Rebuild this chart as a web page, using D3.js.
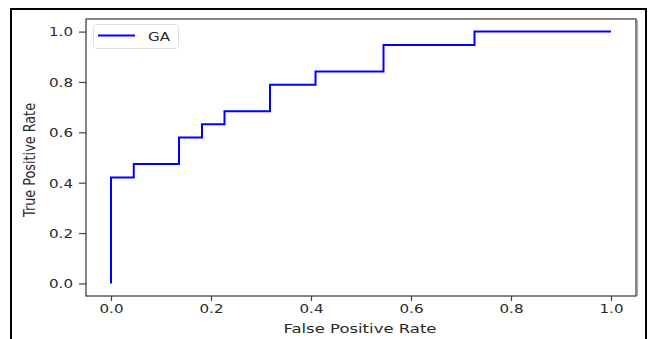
<!DOCTYPE html>
<html><head><meta charset="utf-8">
<script src="https://cdn.jsdelivr.net/npm/d3@7"></script>
<style>
html,body{margin:0;padding:0;background:#fff;}
svg{display:block;}
text{font-family:"DejaVu Sans",sans-serif;}
</style></head>
<body>
<svg id="c" width="648" height="339"></svg>
<script>
// ROC curve data (GA)
const fpr = [0, 0, 0.0455, 0.0455, 0.136, 0.136, 0.182, 0.182, 0.227, 0.227, 0.318, 0.318, 0.409, 0.409, 0.545, 0.545, 0.727, 0.727, 1.0];
const tpr = [0, 0.421, 0.421, 0.474, 0.474, 0.579, 0.579, 0.632, 0.632, 0.684, 0.684, 0.789, 0.789, 0.842, 0.842, 0.947, 0.947, 1.0, 1.0];
const seriesName = "GA";
const xTicks = [0, 0.2, 0.4, 0.6, 0.8, 1.0];
const yTicks = [0, 0.2, 0.4, 0.6, 0.8, 1.0];
const xLabel = "False Positive Rate";
const yLabel = "True Positive Rate";

const svg = d3.select("#c");
const L = 86, R = 636, T = 19, B = 296;
const x = d3.scaleLinear().domain([-0.05, 1.05]).range([L, R]);
const y = d3.scaleLinear().domain([-0.05, 1.05]).range([B, T]);

// outer frame
svg.append("rect").attr("x", 11).attr("y", 9).attr("width", 635).attr("height", 345)
  .attr("fill", "none").attr("stroke", "#000").attr("stroke-width", 2);

// plot frame shadow on right
svg.append("line").attr("x1", R + 1.5).attr("x2", R + 1.5).attr("y1", T + 1).attr("y2", B)
  .attr("stroke", "#aaa").attr("stroke-width", 1.2);

// axes
const fmt = d3.format(".1f");
const gx = svg.append("g").attr("transform", `translate(0,${B})`)
  .call(d3.axisBottom(x).tickValues(xTicks).tickFormat(fmt).tickSize(5).tickSizeOuter(0));
const gy = svg.append("g").attr("transform", `translate(${L},0)`)
  .call(d3.axisLeft(y).tickValues(yTicks).tickFormat(fmt).tickSize(7).tickSizeOuter(0));
[gx, gy].forEach(g => {
  g.select(".domain").remove();
  g.selectAll(".tick line").attr("stroke", "#444").attr("stroke-width", 1.2);
  g.selectAll(".tick text").attr("fill", "#2a2a2a").attr("font-size", 12.5)
    .attr("font-family", "DejaVu Sans")
    .attr("textLength", 24).attr("lengthAdjust", "spacingAndGlyphs");
});
gx.selectAll(".tick text").attr("y", 8);
gy.selectAll(".tick text").attr("x", -13).attr("dy", "0.35em");

// plot frame
svg.append("rect").attr("x", L).attr("y", T).attr("width", R - L).attr("height", B - T)
  .attr("fill", "none").attr("stroke", "#444").attr("stroke-width", 1.3);

// ROC line
const pts = fpr.map((f, i) => [f, tpr[i]]);
svg.append("path").datum(pts)
  .attr("d", d3.line().x(d => x(d[0])).y(d => y(d[1])))
  .attr("fill", "none").attr("stroke", "#0000ff").attr("stroke-width", 2)
  .attr("stroke-linejoin", "miter");

// axis labels
svg.append("text").attr("x", 360).attr("y", 333).attr("text-anchor", "middle")
  .attr("font-size", 12.5).attr("fill", "#2a2a2a")
  .attr("textLength", 153).attr("lengthAdjust", "spacingAndGlyphs").text(xLabel);
svg.append("text").attr("transform", "translate(35,160) scale(1.2,1) rotate(-90)").attr("text-anchor", "middle")
  .attr("font-size", 13.5).attr("fill", "#2a2a2a")
  .attr("textLength", 114).attr("lengthAdjust", "spacingAndGlyphs").text(yLabel);

// legend
const lg = svg.append("g");
lg.append("rect").attr("x", 93.5).attr("y", 24.5).attr("width", 85).attr("height", 24).attr("rx", 3)
  .attr("fill", "#fff").attr("stroke", "#ddd").attr("stroke-width", 1);
lg.append("line").attr("x1", 98).attr("x2", 135).attr("y1", 35.5).attr("y2", 35.5)
  .attr("stroke", "#0000ff").attr("stroke-width", 2);
lg.append("text").attr("x", 148).attr("y", 40.5).attr("font-size", 12.5).attr("fill", "#2a2a2a")
  .attr("textLength", 22).attr("lengthAdjust", "spacingAndGlyphs").text(seriesName);
</script>
</body></html>
